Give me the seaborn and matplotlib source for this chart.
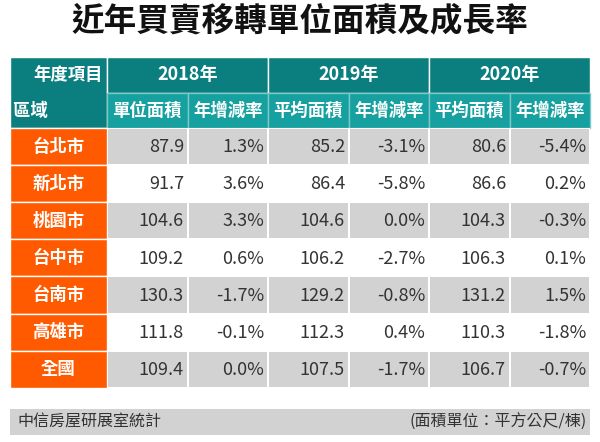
import numpy as np
import pandas as pd
import matplotlib
matplotlib.use("Agg")
import matplotlib.pyplot as plt
from matplotlib.patches import Rectangle
from matplotlib.colors import ListedColormap
import seaborn as sns

# ---------------- data ----------------
title = "近年買賣移轉單位面積及成長率"
regions = ["台北市", "新北市", "桃園市", "台中市", "台南市", "高雄市", "全國"]
years = ["2018年", "2019年", "2020年"]
sub_headers = ["單位面積", "年增減率", "平均面積", "年增減率", "平均面積", "年增減率"]
area_2018 = [87.9, 91.7, 104.6, 109.2, 130.3, 111.8, 109.4]
rate_2018 = [1.3, 3.6, 3.3, 0.6, -1.7, -0.1, 0.0]
area_2019 = [85.2, 86.4, 104.6, 106.2, 129.2, 112.3, 107.5]
rate_2019 = [-3.1, -5.8, 0.0, -2.7, -0.8, 0.4, -1.7]
area_2020 = [80.6, 86.6, 104.3, 106.3, 131.2, 110.3, 106.7]
rate_2020 = [-5.4, 0.2, -0.3, 0.1, 1.5, -1.8, -0.7]
corner_top = "年度項目"
corner_bottom = "區域"
source = "中信房屋研展室統計"
unit_note = "(面積單位：平方公尺/棟)"

# ---------------- style ----------------
sns.set_theme(style="white")
plt.rcParams["font.family"] = ["Noto Sans CJK TC", "DejaVu Sans"]

DARK_TEAL = "#0b7f7f"
LIGHT_TEAL = "#17a0a0"
ORANGE = "#ff5a00"
GRAY = "#d2d2d2"
WHITE = "#ffffff"
TEXT = "#333333"

W, H = 600, 442
fig = plt.figure(figsize=(W / 100, H / 100), dpi=100)
ax = fig.add_axes([0, 0, 1, 1])
ax.set_xlim(0, W)
ax.set_ylim(H, 0)
ax.axis("off")

# layout (pixels)
x0, x1 = 10, 107          # region column
xe = 590                  # right edge
y_h1, y_h2, y_b0 = 57, 93, 128
n_rows = len(regions)
row_h = 37.1
y_b1 = y_b0 + row_h * n_rows
col_w = (xe - x1) / len(sub_headers)

# title
ax.text(W / 2, 21, title, ha="center", va="center", fontsize=23.5,
        fontweight="black", color="#111111")

# corner header cell
ax.add_patch(Rectangle((x0, y_h1), x1 - x0, y_b0 - y_h1, fc=DARK_TEAL, ec=WHITE, lw=1))
ax.text(x1 - 4, (y_h1 + y_h2) / 2, corner_top, ha="right", va="center",
        fontsize=12.5, fontweight="bold", color=WHITE)
ax.text(x0 + 3, (y_h2 + y_b0) / 2, corner_bottom, ha="left", va="center",
        fontsize=12.5, fontweight="bold", color=WHITE)

# year headers
for k, yr in enumerate(years):
    xs = x1 + 2 * k * col_w
    ax.add_patch(Rectangle((xs, y_h1), 2 * col_w, y_h2 - y_h1, fc=DARK_TEAL, ec=WHITE, lw=1))
    ax.text(xs + col_w, (y_h1 + y_h2) / 2, yr, ha="center", va="center",
            fontsize=13, fontweight="bold", color=WHITE)

# sub headers
for j, sh in enumerate(sub_headers):
    xs = x1 + j * col_w
    ax.add_patch(Rectangle((xs, y_h2), col_w, y_b0 - y_h2, fc=LIGHT_TEAL, ec="#7cc8c8", lw=1))
    ax.text(xs + col_w / 2, (y_h2 + y_b0) / 2, sh, ha="center", va="center",
            fontsize=12.5, fontweight="bold", color=WHITE)

# region labels
for i, r in enumerate(regions):
    ys = y_b0 + i * row_h
    ax.add_patch(Rectangle((x0, ys), x1 - x0, row_h, fc=ORANGE, ec=WHITE, lw=1))
    ax.text((x0 + x1) / 2, ys + row_h / 2, r, ha="center", va="center",
            fontsize=12.5, fontweight="bold", color=WHITE)

# body via seaborn heatmap
values = pd.DataFrame({
    "a18": area_2018, "r18": rate_2018,
    "a19": area_2019, "r19": rate_2019,
    "a20": area_2020, "r20": rate_2020,
}, index=regions)
stripe = np.array([[i % 2] * values.shape[1] for i in range(n_rows)])
bax = fig.add_axes([x1 / W, 1 - y_b1 / H, (xe - x1) / W, (y_b1 - y_b0) / H])
sns.heatmap(stripe, ax=bax, cmap=ListedColormap([GRAY, WHITE]), vmin=0, vmax=1,
            cbar=False, linewidths=1.2, linecolor=WHITE,
            xticklabels=False, yticklabels=False)
for i in range(n_rows):
    for j, col in enumerate(values.columns):
        v = values.iloc[i, j]
        s = f"{v:.1f}%" if col.startswith("r") else f"{v:.1f}"
        bax.text(j + 0.955, i + 0.52, s, ha="right", va="center",
                 fontsize=13, fontweight="light", color=TEXT)

# footer
ax.add_patch(Rectangle((x0, 409), xe - x0, 26, fc=GRAY, ec="none"))
ax.text(x0 + 7, 422, source, ha="left", va="center", fontsize=11.5, color=TEXT)
ax.text(xe - 3, 422, unit_note, ha="right", va="center", fontsize=11.5, color=TEXT)

fig.savefig("out.png", dpi=100)
